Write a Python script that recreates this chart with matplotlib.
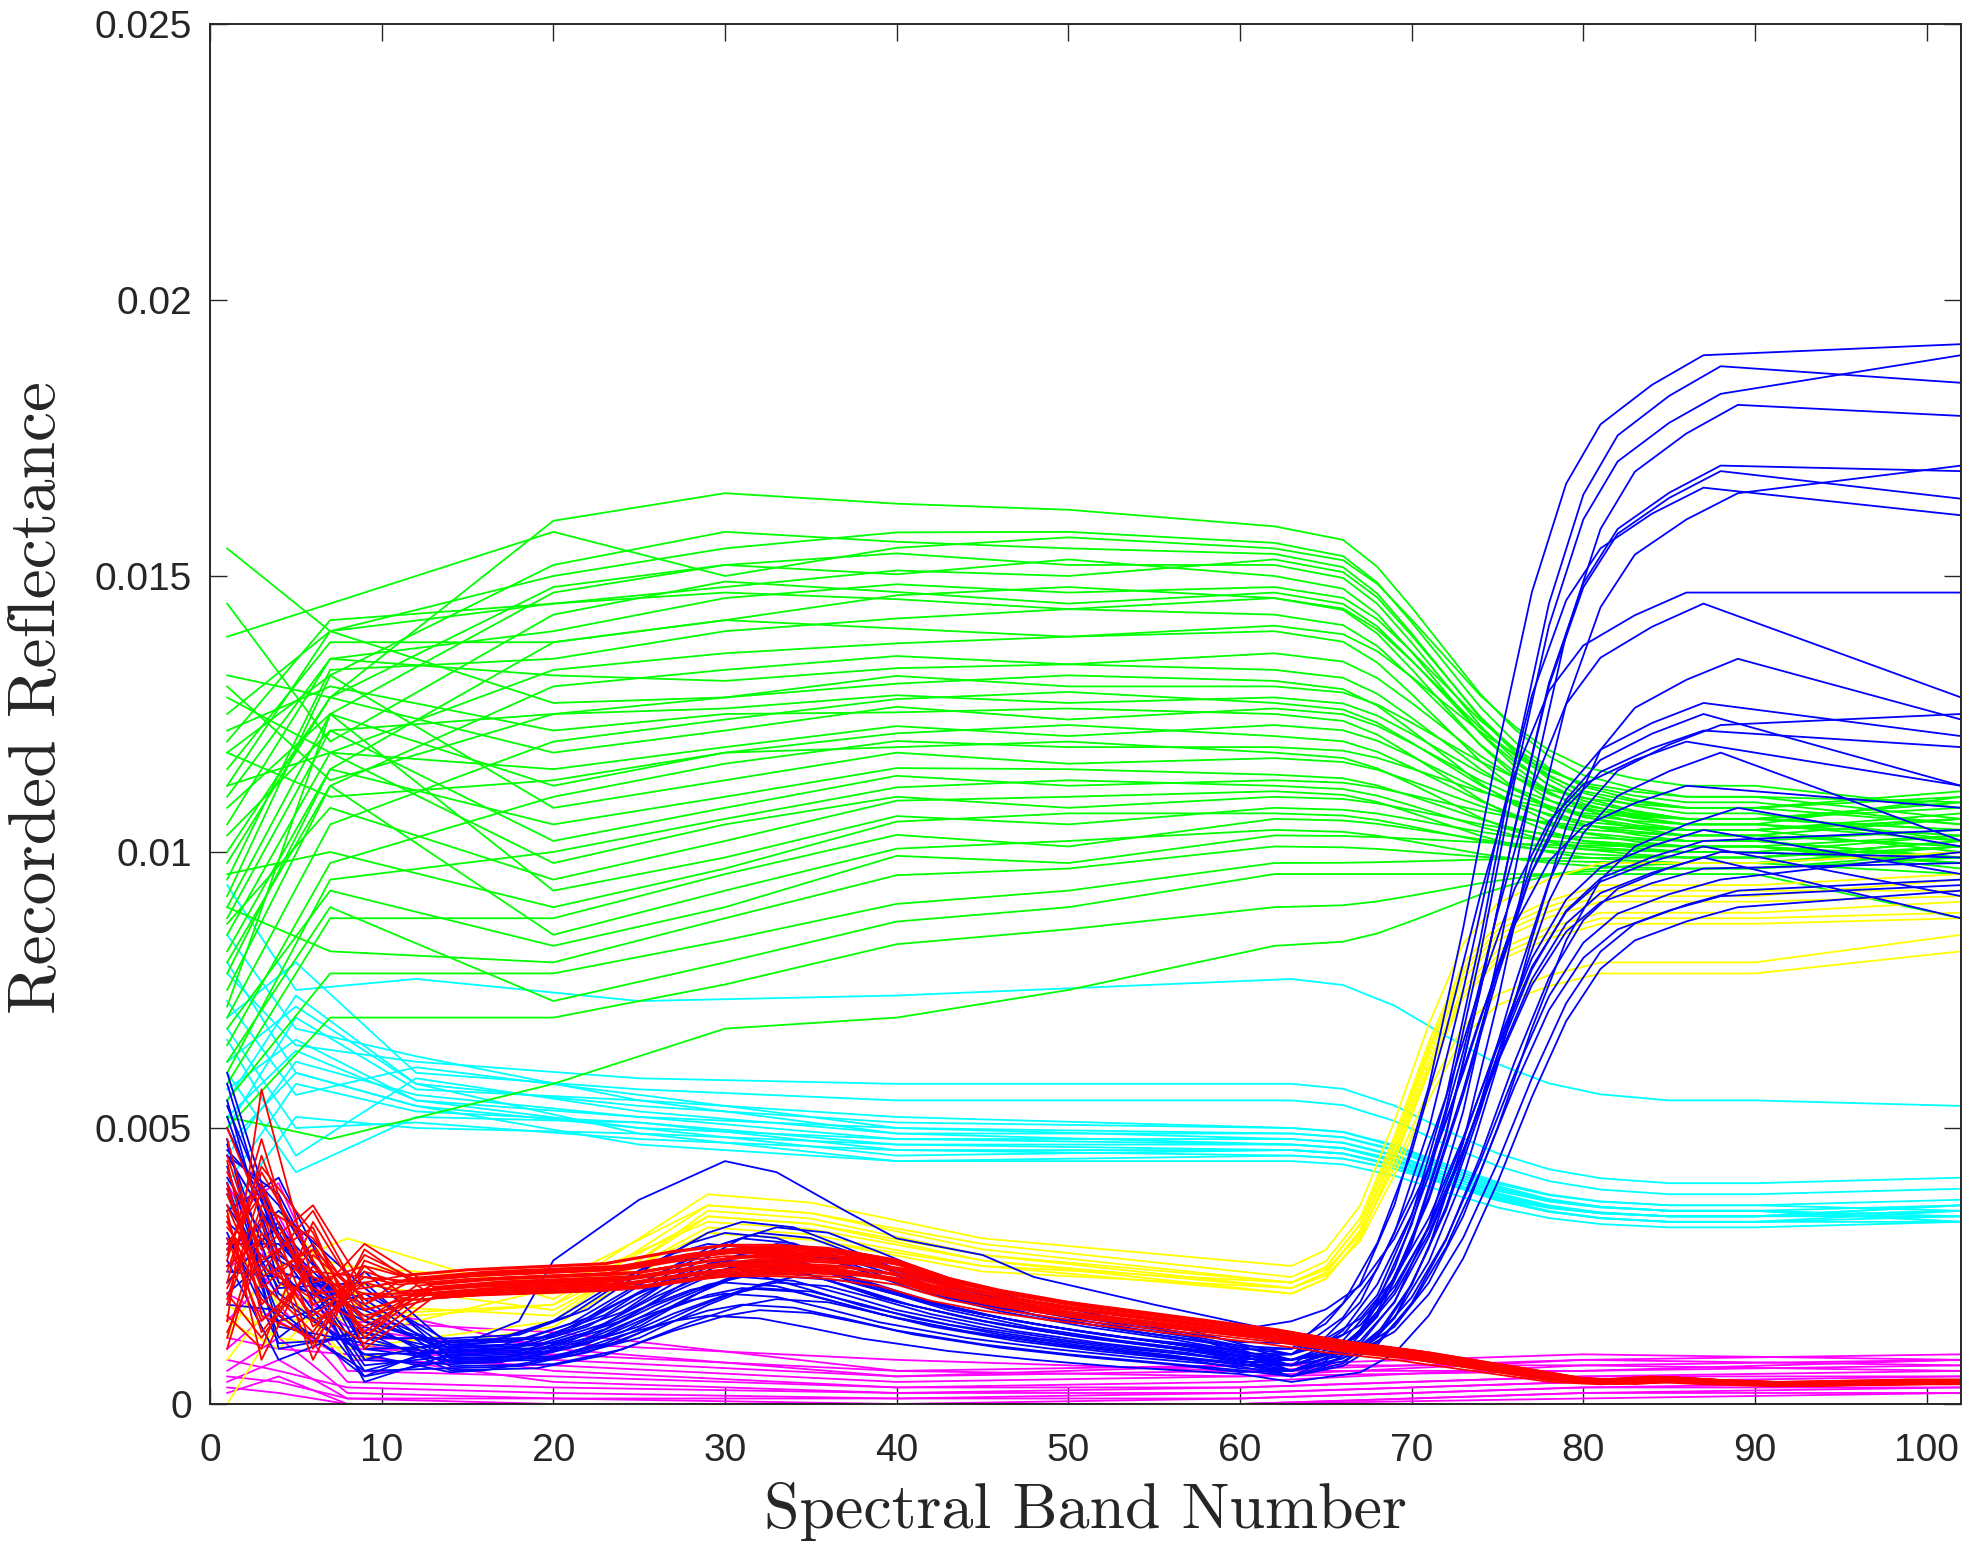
import matplotlib
matplotlib.use("Agg")
import matplotlib.pyplot as plt

# ------------------------------------------------------------------ data
x_ticks = [0, 10, 20, 30, 40, 50, 60, 70, 80, 90, 100]
y_ticks = [0, 0.005, 0.01, 0.015, 0.02, 0.025]
y_tick_labels = ["0", "0.005", "0.01", "0.015", "0.02", "0.025"]

# ---- green class: values at bands 1, 7, 20, 30, 40, 50, 62, 90, 102
g_b1 = [.0132, .0155, .0118, .0139, .0100, .0125, .0090, .0110, .0145, .0082, .0120, .0095, .0115, .0128,
        .0075, .0105, .0112, .0088, .0130, .0070, .0098, .0122, .0085, .0108, .0065, .0118, .0092, .0078,
        .0103, .0060, .0112, .0087, .0072, .0096, .0058, .0080, .0068, .0090, .0055, .0062, .0050, .0052]
g_b7 = [.0128, .0140, .0132, .0145, .0128, .0140, .0125, .0135, .0120, .0115, .0142, .0133, .0138, .0118,
        .0112, .0135, .0140, .0122, .0113, .0105, .0128, .0130, .0118, .0125, .0098, .0110, .0132, .0115,
        .0122, .0095, .0118, .0108, .0125, .0100, .0088, .0112, .0093, .0082, .0078, .0090, .0070, .0048]
g_b20 = [.0160, .0150, .0152, .0158, .0148, .0145, .0147, .0140, .0143, .0138, .0145, .0135, .0138, .0133,
         .0130, .0132, .0127, .0125, .0125, .0120, .0118, .0122, .0115, .0112, .0110, .0113, .0108, .0105,
         .0102, .0100, .0098, .0095, .0093, .0090, .0088, .0085, .0083, .0080, .0078, .0073, .0070, .0058]
g_b30 = [.0165, .0155, .0158, .0150, .0152, .0148, .0152, .0146, .0149, .0142, .0147, .0140, .0142, .0136,
         .0133, .0131, .0128, .0128, .0126, .0124, .0122, .0125, .0119, .0118, .0116, .0118, .0113, .0110,
         .0108, .0106, .0105, .0102, .0099, .0097, .0096, .0093, .0090, .0088, .0084, .0080, .0076, .0068]
g_b40 = [.01631, .01579, .01562, .01551, .01541, .01510, .01503, .01485, .01471, .01465, .01458, .01423,
         .01405, .01378, .01355, .01333, .01319, .01305, .01284, .01277, .01263, .01253, .01228, .01215,
         .01201, .01190, .01180, .01152, .01138, .01117, .01100, .01093, .01065, .01055, .01031, .01006,
         .00993, .00958, .00906, .00874, .00833, .00700]
g_b50 = [.0162, .0158, .0155, .0157, .0152, .0150, .0153, .0147, .0145, .0148, .0144, .0144, .0139, .0139,
         .0134, .0134, .0130, .0132, .0127, .0129, .0124, .0126, .0121, .0123, .0119, .0120, .0116, .0115,
         .0112, .0113, .0108, .0110, .0105, .0107, .0101, .0102, .0098, .0097, .0093, .0090, .0086, .0075]
g_b62 = [.0159, .0156, .0154, .0155, .0152, .0153, .0150, .0148, .0147, .0146, .0146, .0143, .0141, .0140,
         .0136, .0133, .0130, .0131, .0128, .0127, .0126, .0125, .0123, .0121, .0119, .0118, .0117, .0114,
         .0113, .0112, .0110, .0111, .0108, .0107, .0106, .0104, .0103, .0101, .0098, .0096, .0090, .0083]
g_b90 = [.0110, .0108, .0106, .0112, .0105, .0107, .0104, .0109, .0106, .0103, .0108, .0105, .0110, .0102,
         .0106, .0104, .0108, .0101, .0106, .0103, .0105, .0100, .0104, .0102, .0106, .0099, .0103, .0101,
         .0104, .0100, .0102, .0098, .0101, .0099, .0100, .0097, .0101, .0098, .0099, .0096, .0097, .0098]
g_b102 = [.0109, .0110, .0104, .0108, .0110, .0102, .0106, .0105, .0109, .0101, .0111, .0103, .0106, .0104,
          .0108, .0100, .0105, .0103, .0109, .0106, .0102, .0098, .0107, .0099, .0104, .0102, .0101, .0098,
          .0106, .0103, .0099, .0101, .0097, .0102, .0098, .0100, .0099, .0096, .0101, .0088, .0099, .0100]
green_trans_bands = [66, 68, 70, 72, 74, 76, 78, 80, 83, 86]
green_trans_frac = [0.05, 0.15, 0.30, 0.46, 0.62, 0.75, 0.85, 0.92, 0.97, 1.0]

# ---- cyan class: values at bands 1, 5, 12, 40, 63, 90, 102
c_b1 = [.0094, .0078, .0070, .0085, .0062, .0073, .0057, .0066, .0050, .0080, .0045, .0060, .0055, .0040,
        .0068, .0052, .0035, .0047]
c_b5 = [.0075, .0065, .0080, .0068, .0072, .0056, .0066, .0045, .0070, .0060, .0062, .0042, .0074, .0058,
        .0050, .0064, .0052, .0060]
c_b12 = [.0077, .0062, .0060, .0063, .0058, .0061, .0055, .0059, .0057, .0054, .0056, .0052, .0058, .0053,
         .0051, .0055, .0050, .0054]
c_b25 = [.0073, .0059, .0057, .0055, .0054, .0056, .0052, .0053, .0055, .0050, .0052, .0051, .0049, .0051,
         .0048, .0050, .0049, .0047]
c_b40 = [.0074, .0058, .0055, .0052, .0051, .0050, .0050, .0049, .0049, .0048, .0048, .0047, .0047, .0046,
         .0046, .0045, .0044, .0044]
c_b63 = [.0077, .0058, .0055, .0050, .0050, .0049, .0048, .0049, .0047, .0048, .0047, .0046, .0047, .0046,
         .0045, .0046, .0045, .0044]
c_b90 = [.0055, .0040, .0038, .0036, .0035, .0035, .0034, .0036, .0034, .0035, .0033, .0034, .0035, .0033,
         .0034, .0033, .0034, .0032]
c_b102 = [.0054, .0041, .0039, .0037, .0036, .0034, .0035, .0035, .0036, .0033, .0034, .0036, .0033, .0035,
          .0034, .0033, .0035, .0033]
cyan_trans_bands = [66, 69, 72, 75, 78, 81, 85]
cyan_trans_frac = [0.05, 0.22, 0.47, 0.70, 0.86, 0.95, 1.0]

# ---- blue class
b_b1 = [.0060, .0045, .0030, .0052, .0025, .0040, .0035, .0055, .0020, .0048, .0028, .0038, .0058, .0022,
        .0043, .0033, .0050, .0026, .0036, .0046, .0018, .0041, .0031, .0054, .0024, .0039, .0029, .0047]
b_b4 = [.0030, .0038, .0015, .0025, .0032, .0012, .0041, .0022, .0028, .0010, .0035, .0019, .0027, .0033,
        .0014, .0024, .0030, .0008, .0021, .0036, .0017, .0026, .0011, .0031, .0023, .0016, .0029, .0020]
b_b9 = [.0012, .0008, .0020, .0005, .0015, .0024, .0010, .0017, .0006, .0013, .0021, .0009, .0016, .0004,
        .0011, .0019, .0007, .0014, .0022, .0010, .0005, .0018, .0012, .0008, .0015, .0006, .0013, .0009]
b_peak = [.0033, .0032, .0031, .0031, .0030, .0029, .0029, .0028, .0028, .0027, .0027, .0026, .0026, .0025,
          .0025, .0024, .0024, .0023, .0023, .0022, .0022, .0021, .0021, .0020, .0019, .0018, .0017, .0016]
b_peak_shift = [0, 2, -1, 1, 0, -2, 2, 1, -1, 0, 3, -1, 1, 2, 0, -2, 1, 3, 0, -1, 2, 0, 1, -1, 2, 0, 1, -2]
b_b63 = [.0011, .0009, .0010, .0008, .0009, .0007, .0010, .0008, .0006, .0009, .0007, .0008, .0006, .0009,
         .0007, .0005, .0008, .0006, .0007, .0005, .0008, .0006, .0007, .0005, .0006, .0005, .0006, .0004]
b_shift = [0, -1, 0, 1, 0, 1, -1, 2, 0, 1, 0, 2, 1, 0, -1, 1, 2, 0, 1, 0, 2, 1, 0, 1, 2, 0, 1, 2]
b_b87 = [.0190, .0120, .0101, .0183, .0097, .0169, .0147, .0093, .0125, .0188, .0104, .0135, .0092, .0166,
         .0112, .0100, .0181, .0127, .0095, .0145, .0108, .0170, .0099, .0123, .0165, .0102, .0118, .0090]
b_b102 = [.0192, .0112, .0092, .0190, .0098, .0164, .0147, .0095, .0112, .0185, .0096, .0124, .0094, .0161,
          .0108, .0099, .0179, .0121, .0100, .0128, .0101, .0169, .0088, .0125, .0170, .0104, .0102, .0093]
blue_mid_bands = [14, 18, 22, 26, 29, 31, 34, 37, 40, 45, 50, 55, 60]
blue_mid_rel = [0.36, 0.38, 0.52, 0.78, 0.94, 1.0, 0.97, 0.86, 0.74, 0.60, 0.50, 0.42, 0.34]
blue_trans_bands = [65, 67, 69, 71, 73, 75, 77, 79, 81, 84, 87]
blue_trans_frac = [0.02, 0.06, 0.14, 0.26, 0.42, 0.60, 0.76, 0.87, 0.93, 0.97, 1.0]
# single high blue curve
blue_hi_bands = [1, 4, 9, 14, 18, 20, 25, 30, 33, 37, 40, 45, 48, 55, 61, 63]
blue_hi_vals = [.0045, .0030, .0015, .0010, .0015, .0026, .0037, .0044, .0042, .0035, .0030, .0027, .0023,
                .0018, .0014, .0015]
blue_hi_end = [.0122, .0119]

# ---- red class
r_b1 = [.0025, .0040, .0015, .0032, .0050, .0020, .0028, .0045, .0012, .0035, .0022, .0038, .0018, .0030,
        .0026, .0042, .0010, .0033, .0024, .0048, .0016, .0029, .0036, .0021, .0044, .0027, .0013, .0034,
        .0019, .0039]
r_b3 = [.0030, .0018, .0057, .0024, .0035, .0012, .0040, .0026, .0033, .0008, .0045, .0022, .0036, .0015,
        .0048, .0028, .0031, .0019, .0042, .0025, .0010, .0038, .0021, .0034, .0016, .0043, .0027, .0013,
        .0039, .0023]
r_b6 = [.0015, .0028, .0022, .0035, .0010, .0025, .0018, .0032, .0008, .0027, .0020, .0013, .0030, .0024,
        .0017, .0036, .0021, .0011, .0026, .0019, .0033, .0014, .0029, .0023, .0012, .0031, .0016, .0025,
        .0020, .0028]
r_b9 = [.0020, .0012, .0025, .0018, .0028, .0015, .0022, .0010, .0026, .0019, .0014, .0027, .0017, .0023,
        .0011, .0021, .0016, .0024, .0013, .0029, .0018, .0022, .0015, .0020, .0025, .0012, .0023, .0017,
        .0021, .0019]
r_scale = [-0.10, 0.04, -0.03, 0.08, -0.07, 0.02, 0.10, -0.08, 0.06, -0.04, 0.00, 0.07, -0.06, 0.03, -0.01,
           0.09, -0.09, 0.05, -0.03, 0.01, 0.06, -0.07, 0.03, -0.05, 0.11, -0.02, 0.04, -0.11, 0.08, -0.04]
r_shift = [0, 1, -1, 0, 1, 0, -1, 1, 0, -1, 1, 0, 0, -1, 1, 0, 1, -1, 0, 1, -1, 0, 1, 0, -1, 0, 1, -1, 0, 1]
red_mid_bands = [12, 16, 20, 24, 28, 31, 34, 37, 40, 43, 46, 50, 54, 58, 62, 66, 70, 73, 76, 79, 82, 85, 88,
                 92, 96, 100]
red_mid_vals = [.0021, .0022, .00225, .0023, .0025, .0026, .0026, .00255, .0024, .0021, .0019, .0017,
                .00155, .0014, .00125, .00105, .0009, .00075, .0006, .00045, .0004, .00045, .0004, .00036,
                .00038, .0004]

# ---- magenta class: values at bands 1, 4, 8, 20, 40, 60, 80, 102
m_bands = [1, 4, 8, 20, 40, 60, 80, 102]
m_vals = [
    [.0045, .0030, .0015, .0013, .0006, .0007, .0009, .0008],
    [.0035, .0040, .0012, .0011, .0008, .0006, .0008, .0009],
    [.0030, .0020, .0018, .0010, .0005, .0007, .0007, .0008],
    [.0025, .0028, .0010, .0009, .0006, .0005, .0008, .0007],
    [.0020, .0015, .0008, .0007, .0004, .0005, .0006, .0007],
    [.0015, .0025, .0006, .0005, .0003, .0004, .0007, .0006],
    [.0012, .0010, .0009, .0004, .0002, .0003, .0005, .0006],
    [.0010, .0018, .0004, .0003, .0002, .0002, .0004, .0005],
    [.0008, .0006, .0003, .0002, .0001, .0002, .0004, .0004],
    [.0006, .0012, .0002, .0001, .0001, .0001, .0003, .0004],
    [.0005, .0004, .0001, .0001, .0000, .0001, .0003, .0003],
    [.0004, .0008, .0001, .0000, .0000, .0000, .0002, .0003],
    [.0003, .0002, .0000, .0000, .0000, .0000, .0002, .0002],
    [.0002, .0005, .0000, .0000, .0000, .0000, .0001, .0002],
    [.0040, .0022, .0014, .0008, .0005, .0006, .0006, .0008],
    [.0028, .0034, .0011, .0006, .0003, .0003, .0005, .0005],
]

# ---- yellow class: values at bands 1, 4, 8, 20, 29, 45, 63, 90, 102
y_b1 = [.0025, .0030, .0012, .0018, .0035, .0008, .0022, .0015, .0028, .0000]
y_b4 = [.0035, .0018, .0028, .0012, .0025, .0020, .0032, .0010, .0022, .0015]
y_b8 = [.0020, .0015, .0025, .0010, .0030, .0018, .0012, .0022, .0008, .0016]
y_b20 = [.0020, .0018, .0022, .0015, .0019, .0016, .0021, .0017, .0014, .0018]
y_b29 = [.0038, .0036, .0036, .0035, .0034, .0034, .0033, .0032, .0031, .0031]
y_b45 = [.0030, .0029, .0028, .0027, .0027, .0026, .0026, .0025, .0025, .0024]
y_b63 = [.0025, .0023, .0022, .0022, .0021, .0021, .0020, .0020, .0022, .0021]
y_b90 = [.0098, .0094, .0093, .0092, .0091, .0089, .0088, .0087, .0080, .0078]
y_b102 = [.0100, .0096, .0093, .0095, .0092, .0091, .0089, .0088, .0085, .0082]
yellow_trans_bands = [65, 67, 69, 71, 73, 75, 78, 81]
yellow_trans_frac = [0.04, 0.15, 0.36, 0.60, 0.80, 0.90, 0.96, 1.0]
yellow_b35_rel = 0.96

# ------------------------------------------------------------------ figure
fig = plt.figure(figsize=(19.64, 15.41), dpi=100)
ax = fig.add_axes([210 / 1964, 1 - 1404 / 1541, 1751 / 1964, 1380 / 1541])

LW = 1.3


def trans(v0, v1, fracs):
    return [v0 + f * (v1 - v0) for f in fracs]


# magenta
for row in m_vals:
    ax.plot(m_bands, row, color=(1, 0, 1), lw=LW, zorder=2)

# cyan
for i in range(len(c_b40)):
    xs = [1, 5, 12, 25, 40, 63] + cyan_trans_bands + [90, 102]
    ys = ([c_b1[i], c_b5[i], c_b12[i], c_b25[i], c_b40[i], c_b63[i]]
          + trans(c_b63[i], c_b90[i], cyan_trans_frac) + [c_b90[i], c_b102[i]])
    ax.plot(xs, ys, color=(0, 1, 1), lw=LW, zorder=3)

# green
for i in range(len(g_b40)):
    xs = [1, 7, 20, 30, 40, 50, 62] + green_trans_bands + [90, 102]
    ys = ([g_b1[i], g_b7[i], g_b20[i], g_b30[i], g_b40[i], g_b50[i], g_b62[i]]
          + trans(g_b62[i], g_b90[i], green_trans_frac) + [g_b90[i], g_b102[i]])
    ax.plot(xs, ys, color=(0, 1, 0), lw=LW, zorder=4)

# yellow
for i in range(len(y_b29)):
    xs = [1, 4, 8, 20, 29, 35, 45, 63] + yellow_trans_bands + [90, 102]
    ys = ([y_b1[i], y_b4[i], y_b8[i], y_b20[i], y_b29[i], y_b29[i] * yellow_b35_rel, y_b45[i], y_b63[i]]
          + trans(y_b63[i], y_b90[i], yellow_trans_frac) + [y_b90[i], y_b102[i]])
    ax.plot(xs, ys, color=(1, 1, 0), lw=LW, zorder=5)

# blue
for i in range(len(b_peak)):
    d = b_shift[i]
    p = b_peak_shift[i]
    mid_x = [blue_mid_bands[0]] + [b + p for b in blue_mid_bands[1:-1]] + [blue_mid_bands[-1]]
    xs = [1, 4, 9] + mid_x + [63] + [b + d for b in blue_trans_bands] + [102]
    ys = ([b_b1[i], b_b4[i], b_b9[i]] + [r * b_peak[i] for r in blue_mid_rel] + [b_b63[i]]
          + trans(b_b63[i], b_b87[i], blue_trans_frac) + [b_b102[i]])
    ax.plot(xs, ys, color=(0, 0, 1), lw=LW, zorder=6)
xs = blue_hi_bands + blue_trans_bands + [102]
ys = blue_hi_vals + trans(blue_hi_vals[-1], blue_hi_end[0], blue_trans_frac) + [blue_hi_end[1]]
ax.plot(xs, ys, color=(0, 0, 1), lw=LW, zorder=6)

# red
for i in range(len(r_scale)):
    s = r_shift[i]
    xs = [1, 3, 6, 9] + [b + s for b in red_mid_bands] + [102]
    mids = [v * (1 + r_scale[i]) for v in red_mid_vals]
    ys = [r_b1[i], r_b3[i], r_b6[i], r_b9[i]] + mids + [mids[-1]]
    ax.plot(xs, ys, color=(1, 0, 0), lw=LW, zorder=7)

# ------------------------------------------------------------------ axes styling
ax.set_xlim(0, 102)
ax.set_ylim(0, 0.025)
ax.set_xticks(x_ticks)
ax.set_xticklabels([str(t) for t in x_ticks])
ax.set_yticks(y_ticks)
ax.set_yticklabels(y_tick_labels)
axcol = "#262626"
for sp in ax.spines.values():
    sp.set_linewidth(1.4)
    sp.set_color(axcol)
    sp.set_zorder(10)
ax.tick_params(axis="both", which="both", direction="in", top=True, right=True,
               length=12.5, width=1.0, colors=axcol, labelsize=28)
ax.tick_params(axis="x", pad=21)
ax.tick_params(axis="y", pad=13)
for lab in ax.get_xticklabels() + ax.get_yticklabels():
    lab.set_fontfamily("Liberation Sans")
    lab.set_color(axcol)

fig.text(1085.5 / 1964, 1 - 1528 / 1541, "Spectral Band Number", family="cmr10", fontsize=46,
         ha="center", va="baseline", color=axcol)
fig.text(0.0191, 1 - 698 / 1541, "Recorded Reflectance", family="cmr10", fontsize=48.5,
         ha="center", va="center", rotation=90, color=axcol)

fig.savefig("out.png", dpi=100)
